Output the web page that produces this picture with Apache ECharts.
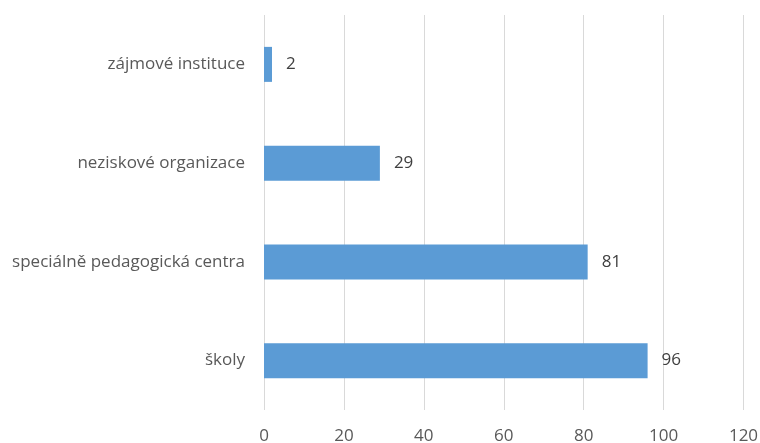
<!DOCTYPE html>
<html>
<head>
<meta charset="utf-8">
<script src="https://cdn.jsdelivr.net/npm/echarts@6/dist/echarts.min.js"></script>
<style>html,body{margin:0;padding:0;background:#fff}#c{width:760px;height:443px}</style>
</head>
<body>
<div id="c"></div>
<script>
var categories = ['školy', 'speciálně pedagogická centra', 'neziskové organizace', 'zájmové instituce'];
var values = [96, 81, 29, 2];
var xTicks = [0, 20, 40, 60, 80, 100, 120];

var chart = echarts.init(document.getElementById('c'));
chart.setOption({
  animation: false,
  grid: { left: 264, right: 16.5, top: 15, bottom: 33, containLabel: false, outerBoundsMode: 'none' },
  xAxis: {
    type: 'value', min: xTicks[0], max: xTicks[xTicks.length - 1], interval: 20,
    axisLine: { show: false }, axisTick: { show: false },
    splitLine: { show: true, lineStyle: { color: '#d9d9d9', width: 1 } },
    axisLabel: { color: '#595959', fontFamily: 'Open Sans', fontSize: 17, margin: 18 }
  },
  yAxis: {
    type: 'category', data: categories,
    axisLine: { show: false }, axisTick: { show: false },
    axisLabel: { color: '#595959', fontFamily: 'Open Sans', fontSize: 17, margin: 19 }
  },
  series: [{
    type: 'bar', data: values, barWidth: 35,
    itemStyle: { color: '#5b9bd5' },
    label: { show: true, position: 'right', distance: 14, color: '#404040', fontFamily: 'Open Sans', fontSize: 17 }
  }]
});
</script>
</body>
</html>
